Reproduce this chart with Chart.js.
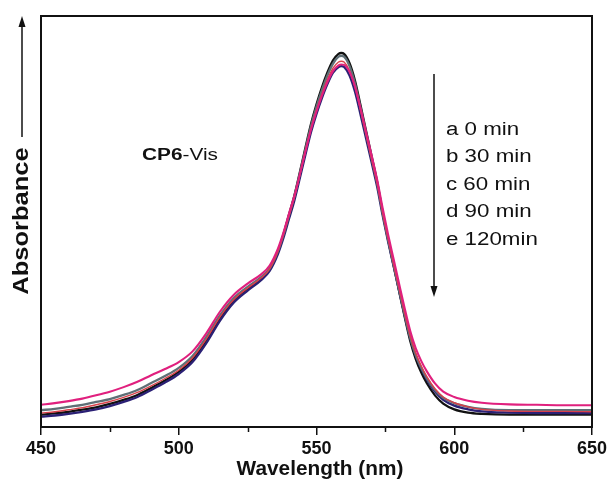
<!DOCTYPE html>
<html>
<head>
<meta charset="utf-8">
<script src="https://cdn.jsdelivr.net/npm/chart.js@4/dist/chart.umd.min.js"></script>
<style>
  html, body { margin: 0; padding: 0; background: #ffffff; }
  #wrap { width: 612px; height: 486px; position: relative; }
</style>
</head>
<body>
<div id="wrap"><canvas id="c" width="612" height="486"></canvas></div>
<script>
// Wavelength grid (nm)
const wavelengths = [450,455,460,465,470,475,480,485,490,495,500,505,510,515,520,525,530,533,536,538,540,542,544,546,548,550,552,554,556,558,559,560,562,564,566,568,570,572,574,576,578,580,582,584,586,588,590,593,596,600,605,610,620,630,640,650];

// Absorbance spectra (a.u.) at each irradiation time
const absA0 = [.030,.033,.037,.042,.048,.056,.066,.078,.095,.113,.134,.164,.211,.266,.309,.337,.362,.384,.427,.468,.516,.564,.621,.680,.737,.785,.827,.863,.892,.908,.910,.908,.885,.842,.782,.720,.659,.597,.523,.456,.393,.330,.268,.210,.166,.133,.107,.077,.057,.043,.035,.032,.030,.030,.030,.030];
const absB30 = [.034,.037,.042,.047,.054,.062,.072,.084,.100,.118,.138,.168,.214,.268,.310,.338,.363,.385,.427,.467,.513,.559,.614,.671,.726,.771,.811,.846,.873,.888,.890,.888,.867,.826,.770,.710,.651,.592,.521,.457,.396,.336,.277,.222,.180,.149,.123,.093,.073,.059,.049,.043,.039,.038,.038,.037];
const absC60 = [.041,.044,.049,.054,.061,.068,.078,.090,.107,.124,.144,.173,.219,.272,.314,.341,.365,.386,.428,.468,.515,.562,.618,.676,.732,.779,.820,.856,.884,.901,.903,.901,.878,.835,.776,.715,.655,.594,.521,.455,.394,.333,.273,.217,.175,.144,.119,.090,.071,.058,.049,.044,.041,.041,.041,.041];
const absD90 = [.025,.028,.032,.037,.043,.051,.061,.073,.090,.108,.129,.158,.204,.259,.303,.332,.358,.380,.421,.460,.506,.552,.607,.663,.717,.762,.801,.835,.862,.876,.878,.876,.855,.815,.760,.702,.644,.585,.515,.451,.391,.331,.272,.217,.174,.142,.116,.086,.066,.052,.043,.038,.035,.034,.034,.034];
const absE120 = [.054,.058,.063,.069,.077,.086,.097,.110,.126,.141,.158,.184,.228,.281,.322,.349,.372,.393,.434,.473,.519,.563,.616,.671,.724,.768,.807,.840,.866,.880,.882,.881,.864,.828,.775,.718,.661,.602,.533,.468,.408,.348,.289,.234,.192,.161,.136,.106,.086,.073,.064,.059,.055,.054,.053,.053];

const seriesLabels = ['a 0 min', 'b 30 min', 'c 60 min', 'd 90 min', 'e 120min'];
const xTicksMajor = [450, 500, 550, 600, 650];
const xTicksMinor = [475, 525, 575, 625];

const FONT = 'Liberation Sans, Arial, Helvetica, sans-serif';

function pts(ys) {
  return wavelengths.map((w, i) => ({ x: w, y: ys[i] }));
}

function ds(label, ys, color, width, order) {
  return {
    label: label,
    data: pts(ys),
    borderColor: color,
    backgroundColor: color,
    borderWidth: width,
    pointRadius: 0,
    showLine: true,
    fill: false,
    tension: 0.4,
    cubicInterpolationMode: 'monotone',
    order: order
  };
}

// text drawn with a horizontal stretch factor
function wideText(ctx, text, x, y, sx) {
  ctx.save();
  ctx.translate(x, y);
  ctx.scale(sx, 1);
  ctx.fillText(text, 0, 0);
  const w = ctx.measureText(text).width * sx;
  ctx.restore();
  return w;
}

// Frame, minor ticks, axis titles and annotations
const decor = {
  id: 'decor',
  afterDraw(chart) {
    const ctx = chart.ctx;
    const a = chart.chartArea;
    const xs = chart.scales.x;
    ctx.save();
    // box frame
    ctx.strokeStyle = '#111';
    ctx.lineWidth = 2;
    ctx.strokeRect(a.left, a.top, a.right - a.left, a.bottom - a.top);
    // minor ticks
    ctx.lineWidth = 1.5;
    ctx.beginPath();
    xTicksMinor.forEach(v => {
      const px = Math.round(xs.getPixelForValue(v)) + 0.5;
      ctx.moveTo(px, a.bottom);
      ctx.lineTo(px, a.bottom + 5);
    });
    ctx.stroke();

    // x title
    ctx.fillStyle = '#111';
    ctx.font = 'bold 20px ' + FONT;
    ctx.textAlign = 'center';
    ctx.textBaseline = 'middle';
    wideText(ctx, 'Wavelength (nm)', 320, 469, 1.04);

    // y title with arrow
    ctx.save();
    ctx.translate(22, 221);
    ctx.rotate(-Math.PI / 2);
    ctx.font = 'bold 22px ' + FONT;
    wideText(ctx, 'Absorbance', 0, 0, 1.16);
    ctx.restore();
    ctx.lineWidth = 1.5;
    ctx.beginPath();
    ctx.moveTo(22, 137);
    ctx.lineTo(22, 24);
    ctx.stroke();
    ctx.beginPath();
    ctx.moveTo(22, 16);
    ctx.lineTo(18.5, 27);
    ctx.lineTo(25.5, 27);
    ctx.closePath();
    ctx.fill();

    // time arrow
    ctx.beginPath();
    ctx.moveTo(434, 74);
    ctx.lineTo(434, 290);
    ctx.stroke();
    ctx.beginPath();
    ctx.moveTo(434, 297);
    ctx.lineTo(430.5, 286);
    ctx.lineTo(437.5, 286);
    ctx.closePath();
    ctx.fill();

    // time labels
    ctx.font = '18px ' + FONT;
    ctx.textAlign = 'left';
    const ly = [130, 157.5, 185, 212.5, 240];
    seriesLabels.forEach((t, i) => wideText(ctx, t, 446, ly[i], 1.24));

    // sample name
    ctx.font = 'bold 16px ' + FONT;
    const w = wideText(ctx, 'CP6', 142, 156, 1.3);
    ctx.font = '16px ' + FONT;
    wideText(ctx, '-Vis', 142 + w, 156, 1.3);
    ctx.restore();
  }
};

new Chart(document.getElementById('c'), {
  type: 'scatter',
  data: {
    datasets: [
      ds(seriesLabels[0], absA0, '#111111', 2.3, 5),
      ds(seriesLabels[3], absD90, '#2b2075', 2.3, 4),
      ds(seriesLabels[2], absC60, '#5f6f76', 2.3, 3),
      ds(seriesLabels[1], absB30, '#d8404a', 1.4, 2),
      ds(seriesLabels[4], absE120, '#e0207e', 2.1, 1)
    ]
  },
  options: {
    responsive: false,
    animation: false,
    devicePixelRatio: 1,
    layout: { padding: { top: 16, right: 20, left: 0, bottom: 0 } },
    plugins: { legend: { display: false }, tooltip: { enabled: false } },
    scales: {
      x: {
        type: 'linear',
        min: 450,
        max: 650,
        afterFit(s) { s.height = 59; },
        afterBuildTicks(s) { s.ticks = xTicksMajor.map(v => ({ value: v })); },
        ticks: {
          color: '#111',
          font: { family: FONT, size: 18, weight: 'bold' },
          padding: 3,
          maxRotation: 0,
          autoSkip: false
        },
        grid: { display: true, drawOnChartArea: false, drawTicks: true, tickLength: 8, color: '#111', lineWidth: 1.5 },
        border: { display: true, color: '#111', width: 2 }
      },
      y: {
        type: 'linear',
        min: 0,
        max: 1,
        afterFit(s) { s.width = 41; },
        ticks: { display: false },
        grid: { display: false, drawTicks: false },
        border: { display: true, color: '#111', width: 2 }
      }
    }
  },
  plugins: [decor]
});
</script>
</body>
</html>
